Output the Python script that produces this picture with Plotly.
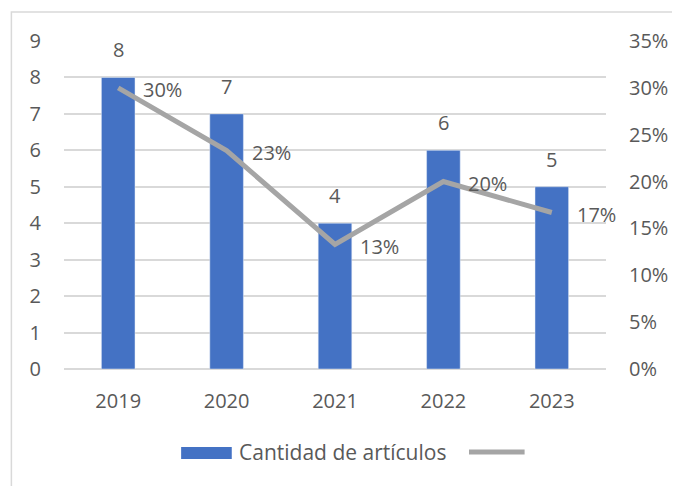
import plotly.graph_objects as go

years = ["2019", "2020", "2021", "2022", "2023"]
articulos = [8, 7, 4, 6, 5]
porcentaje = [0.30, 0.233, 0.133, 0.20, 0.167]
pct_labels = ["30%", "23%", "13%", "20%", "17%"]
bar_name = "Cantidad de artículos"

BLUE = "#4472C4"
GRAY = "#A5A5A5"
TXT = "#595959"
GRID = "#D9D9D9"
FONT = "Open Sans"
FS = 20

# plot area in screen pixels: x 64..610, y 41..369
def px(x):
    return (x - 64) / 546.0

def py(y):
    return (369 - y) / 328.0

fig = go.Figure()
fig.add_trace(go.Bar(x=years, y=articulos, name=bar_name, marker_color=BLUE,
                     width=0.31, showlegend=False))
fig.add_trace(go.Scatter(x=years, y=porcentaje, yaxis="y2", mode="lines",
                         line=dict(color=GRAY, width=5), showlegend=False))

ann = []
for i, v in enumerate(articulos):
    ann.append(dict(x=i, y=v, xref="x", yref="y", text=str(v), showarrow=False,
                    yanchor="bottom", yshift=12, font=dict(family=FONT, size=FS, color=TXT)))
for i, (v, t) in enumerate(zip(porcentaje, pct_labels)):
    ann.append(dict(x=i, y=v, xref="x", yref="y2", text=t, showarrow=False,
                    xanchor="left", xshift=23, yshift=-2, font=dict(family=FONT, size=FS, color=TXT)))
# legend text
ann.append(dict(x=px(238), y=py(452), xref="paper", yref="paper", text=bar_name,
                showarrow=False, xanchor="left", yanchor="middle",
                font=dict(family=FONT, size=21, color=TXT)))

shapes = [
    # outer frame
    dict(type="rect", xref="paper", yref="paper", x0=px(11), x1=px(700), y0=py(520), y1=py(12),
         line=dict(color="#D9D9D9", width=1.5), fillcolor="rgba(0,0,0,0)", layer="below"),
    # legend swatches
    dict(type="rect", xref="paper", yref="paper", x0=px(182), x1=px(233), y0=py(459), y1=py(447),
         line=dict(width=0), fillcolor=BLUE),
    dict(type="line", xref="paper", yref="paper", x0=px(472), x1=px(528), y0=py(452), y1=py(452),
         line=dict(color=GRAY, width=5)),
]

fig.update_layout(
    width=672, height=478,
    margin=dict(l=56, r=62, t=33, b=117),
    paper_bgcolor="white", plot_bgcolor="white",
    font=dict(family=FONT, size=FS, color=TXT),
    bargap=0.69,
    showlegend=False,
    annotations=ann,
    shapes=shapes,
    xaxis=dict(type="category", range=[-0.5, 4.5], showgrid=False, showline=False, ticks="",
               ticklabelstandoff=18, tickfont=dict(family=FONT, size=FS, color=TXT)),
    yaxis=dict(range=[0, 9], dtick=1, showgrid=True, gridcolor=GRID, gridwidth=1.5,
               zeroline=True, zerolinecolor=GRID, zerolinewidth=1.5, showline=False,
               ticklabelstandoff=22, tickfont=dict(family=FONT, size=FS, color=TXT)),
    yaxis2=dict(range=[0, 0.35], dtick=0.05, tickformat=".0%", overlaying="y", side="right",
                showgrid=False, zeroline=False, showline=False,
                ticklabelstandoff=22, tickfont=dict(family=FONT, size=FS, color=TXT)),
)

fig.write_html("out.html", config={"displayModeBar": False})
